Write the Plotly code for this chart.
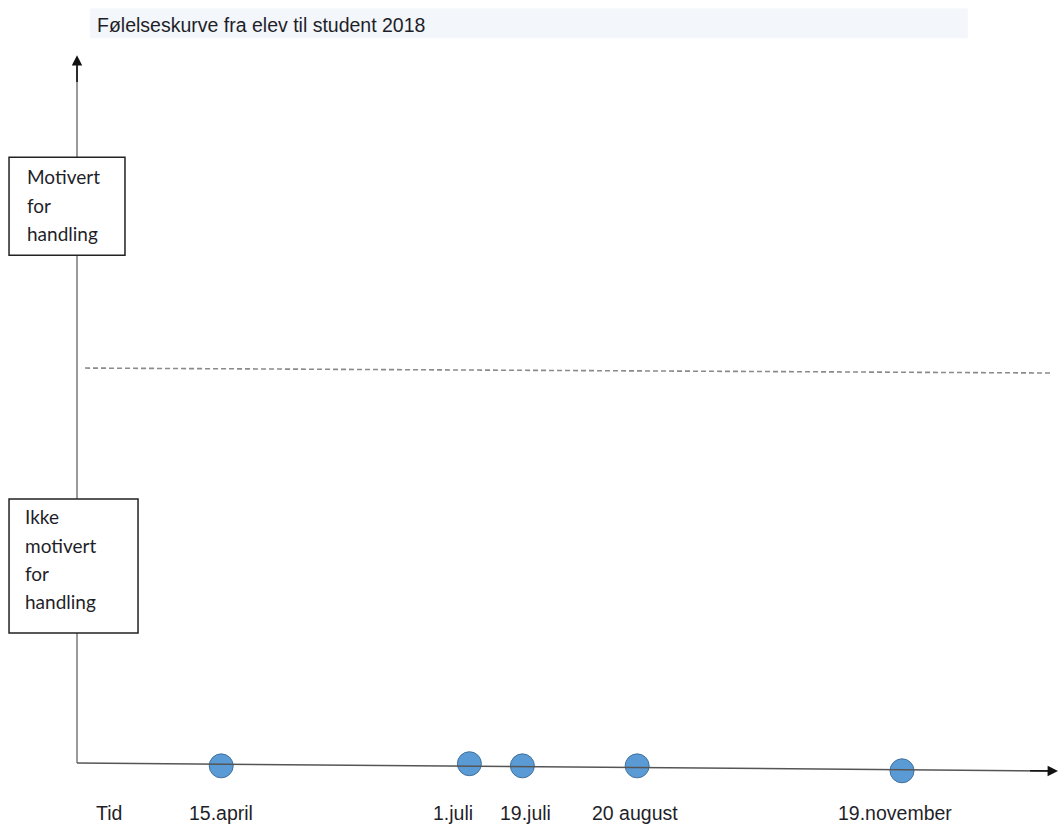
import plotly.graph_objects as go

# ---- data -------------------------------------------------------------
dates = ["15.april", "1.juli", "19.juli", "20 august", "19.november"]
# position along the time axis (0 = origin, 100 = arrow tip)
time_pos = [14.7, 40.0, 45.4, 57.1, 84.1]
# feeling level (0 = bottom axis, 100 = top arrow)
feeling = [-0.4, -0.1, -0.4, -0.4, -1.1]
threshold_level = [55.8, 55.1]          # dashed "motivation" line, start/end
title_text = "Følelseskurve fra elev til student 2018"
box_top_lines = ["Motivert", "for", "handling"]
box_bottom_lines = ["Ikke", "motivert", "for", "handling"]
axis_label = "Tid"

# ---- layout constants --------------------------------------------------
X_RANGE = [-7.85, 100.0]
Y_RANGE = [-9.04, 107.8]
FONT_SANS = "Liberation Sans, Arial, sans-serif"
FONT_BOX = "Lato, Open Sans, sans-serif"
TXT = "#1f1f2a"

fig = go.Figure()

fig.add_trace(go.Scatter(
    x=time_pos, y=feeling, mode="markers",
    marker=dict(size=24, color="#5b9bd5", line=dict(color="#41719c", width=1)),
    hoverinfo="skip", showlegend=False,
))

shapes = []
annotations = []

# title band
shapes.append(dict(type="rect", xref="x", yref="y", x0=1.33, x1=90.8, y0=102.4, y1=106.6,
                   fillcolor="#f3f6fa", line=dict(width=0), layer="below"))
annotations.append(dict(x=1.85, y=104.3, xref="x", yref="y", text=title_text, showarrow=False,
                        xanchor="left", yanchor="middle",
                        font=dict(family=FONT_SANS, size=19.5, color=TXT)))

# vertical axis with arrow
shapes.append(dict(type="line", xref="x", yref="y", x0=0, x1=0, y0=0, y1=98.5,
                   line=dict(color="#9a9a9a", width=2)))
annotations.append(dict(x=0, y=100, ax=0, ay=96, xref="x", yref="y", axref="x", ayref="y",
                        text="", showarrow=True, arrowhead=2, arrowsize=1.3, arrowwidth=1.6,
                        arrowcolor="#111"))

# horizontal axis with arrow
shapes.append(dict(type="line", xref="x", yref="y", x0=0, x1=99, y0=0, y1=-1.12,
                   line=dict(color="#555", width=1.5)))
annotations.append(dict(x=100, y=-1.13, ax=97, ay=-1.1, xref="x", yref="y", axref="x", ayref="y",
                        text="", showarrow=True, arrowhead=2, arrowsize=1.3, arrowwidth=1.6,
                        arrowcolor="#111"))

# dashed threshold line
shapes.append(dict(type="line", xref="x", yref="y", x0=0.82, x1=99.2,
                   y0=threshold_level[0], y1=threshold_level[1],
                   line=dict(color="#8a8a8a", width=1.6, dash="5px,3px")))

# boxes
shapes.append(dict(type="rect", xref="x", yref="y", x0=-6.93, x1=4.89, y0=71.75, y1=85.6,
                   fillcolor="white", line=dict(color="#222", width=1.5)))
shapes.append(dict(type="rect", xref="x", yref="y", x0=-6.93, x1=6.22, y0=18.36, y1=37.3,
                   fillcolor="white", line=dict(color="#222", width=1.5)))

for i, line in enumerate(box_top_lines):
    annotations.append(dict(x=-5.3, y=82.8 - i * 4.0, xref="x", yref="y", text=line,
                            showarrow=False, xanchor="left", yanchor="middle",
                            font=dict(family=FONT_BOX, size=19, color=TXT)))
for i, line in enumerate(box_bottom_lines):
    annotations.append(dict(x=-5.5, y=34.8 - i * 4.0, xref="x", yref="y", text=line,
                            showarrow=False, xanchor="left", yanchor="middle",
                            font=dict(family=FONT_BOX, size=19, color=TXT)))

# bottom labels
annotations.append(dict(x=3.3, y=-7.06, xref="x", yref="y", text=axis_label, showarrow=False,
                        xanchor="center", yanchor="middle",
                        font=dict(family=FONT_SANS, size=19.5, color=TXT)))
label_shift = [0.0, -1.7, 0.3, -0.2, -0.7]
for d, xp, s in zip(dates, time_pos, label_shift):
    annotations.append(dict(x=xp + s, y=-7.06, xref="x", yref="y", text=d, showarrow=False,
                            xanchor="center", yanchor="middle",
                            font=dict(family=FONT_SANS, size=19.5, color=TXT)))

fig.update_layout(
    width=1058, height=827,
    margin=dict(l=0, r=0, t=0, b=0),
    paper_bgcolor="white", plot_bgcolor="white",
    xaxis=dict(range=X_RANGE, visible=False, fixedrange=True),
    yaxis=dict(range=Y_RANGE, visible=False, fixedrange=True),
    shapes=shapes, annotations=annotations, showlegend=False,
)

fig.write_html("out.html", config={"displayModeBar": False},
               post_script="document.body.style.margin='0';document.body.style.overflow='hidden';")
